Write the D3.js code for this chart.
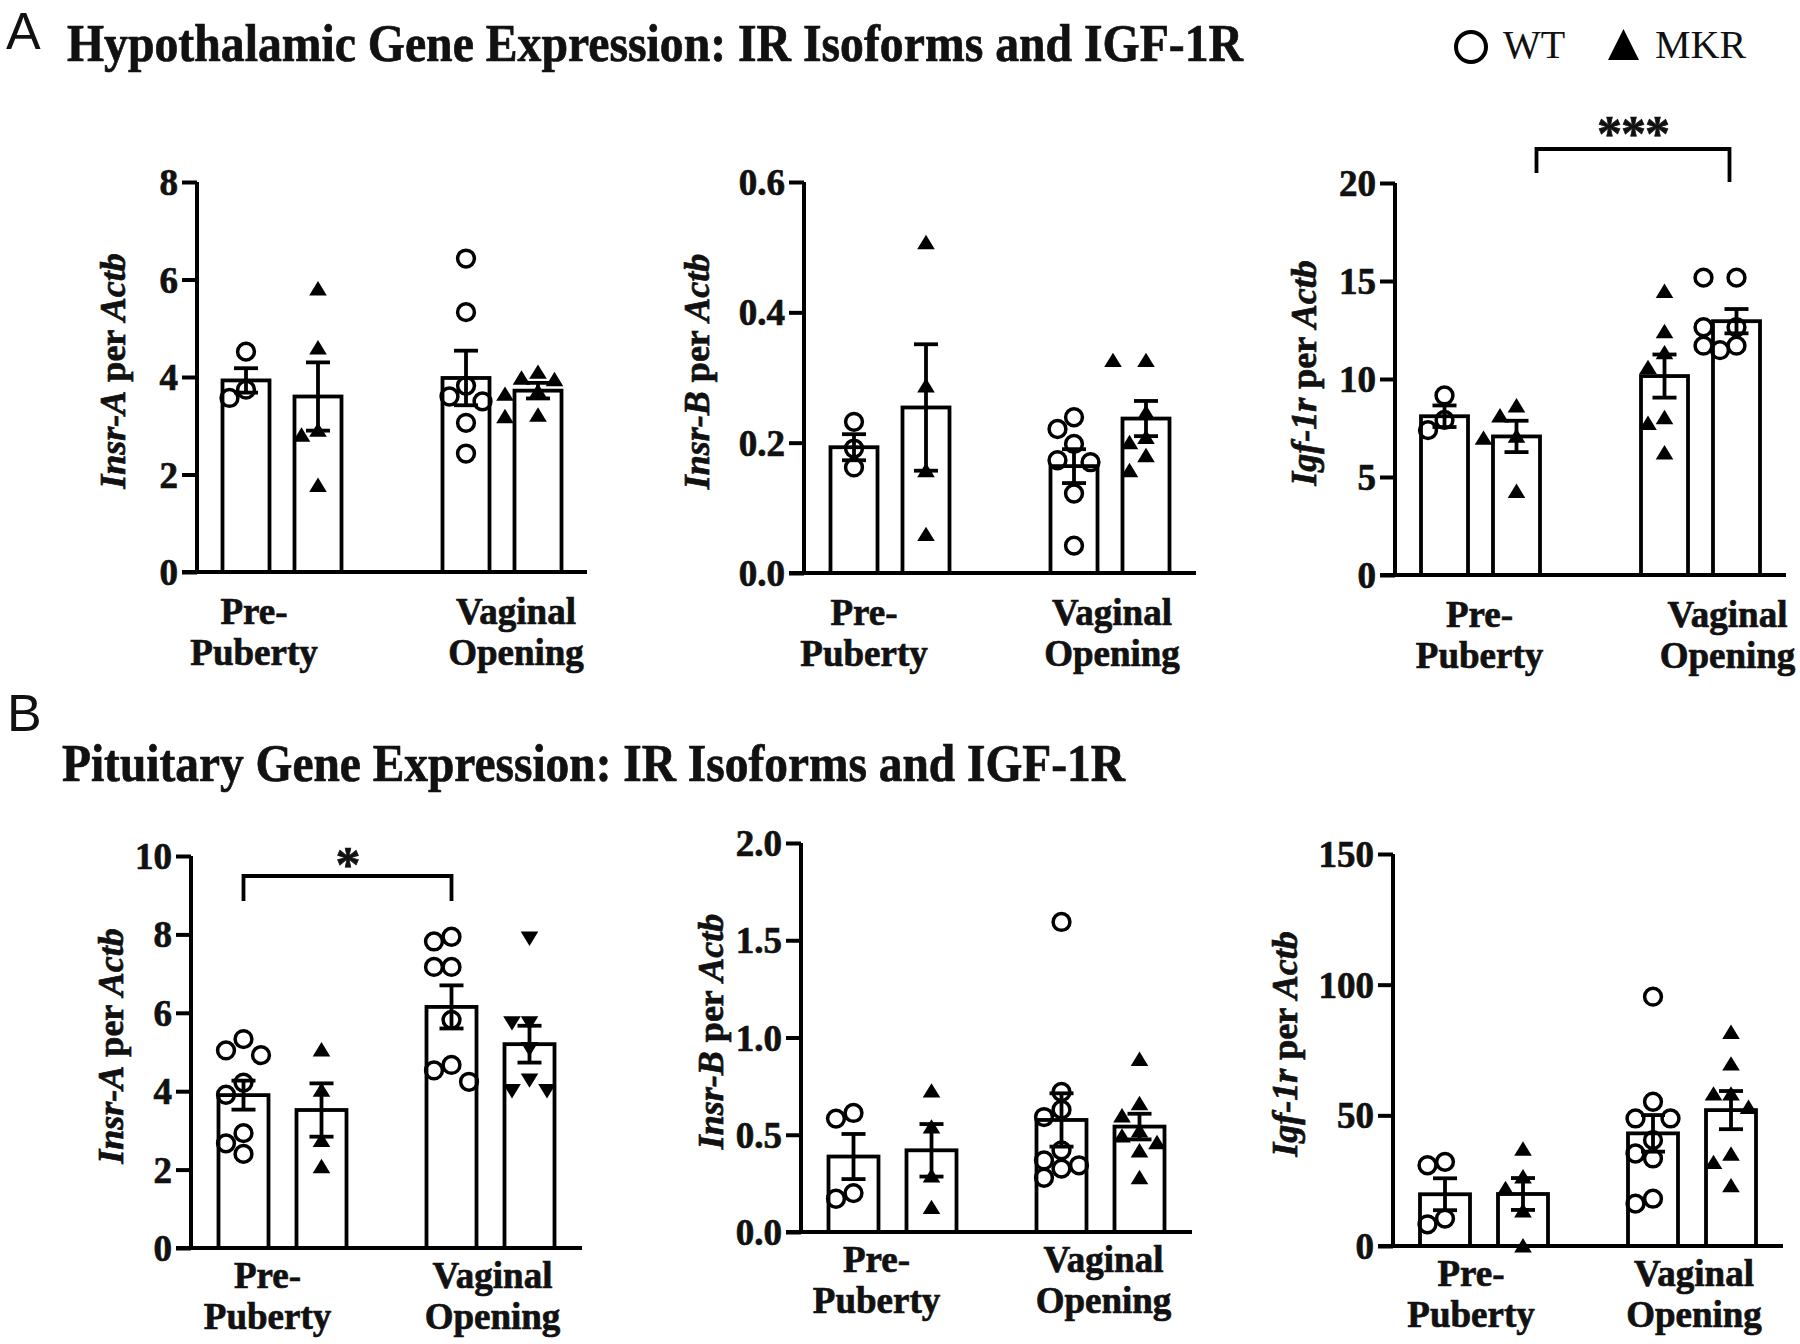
<!DOCTYPE html>
<html><head><meta charset="utf-8">
<script src="https://cdn.jsdelivr.net/npm/d3@7"></script>
<style>
body{margin:0;background:#fff}
svg{display:block}
text{font-family:"Liberation Serif","Times New Roman",serif;fill:#111}
.heavy{stroke:#111;stroke-width:0.7px;paint-order:stroke}
</style>
</head><body>
<svg id="chart" width="1800" height="1344"></svg>
<script>
// ---------------- DATA ----------------
const categories = [["Pre-","Puberty"],["Vaginal","Opening"]];
const genotypes = ["WT","MKR"];

// A: Hypothalamus — Insr-A (slots: WT pre, MKR pre, WT VO, MKR VO)
const hypInsrA_ticks = [0,2,4,6,8];
const hypInsrA_means = [3.93, 3.60, 3.98, 3.72];
const hypInsrA_sem   = [0.25, 0.70, 0.56, 0.16];
const hypInsrA_pts = [
  [4.52, 3.74, 3.57],
  [5.82, 4.61, 2.92, 2.82, 1.79],
  [6.43, 5.33, 3.82, 3.60, 3.50, 3.06, 2.43],
  [4.11, 3.99, 3.96, 3.72, 3.66, 3.23, 3.20]
];
// A: Hypothalamus — Insr-B
const hypInsrB_ticks = [0.0,0.2,0.4,0.6];
const hypInsrB_means = [0.193, 0.254, 0.164, 0.237];
const hypInsrB_sem   = [0.020, 0.097, 0.026, 0.027];
const hypInsrB_pts = [
  [0.232, 0.191, 0.162],
  [0.508, 0.288, 0.158, 0.060],
  [0.239, 0.221, 0.198, 0.173, 0.170, 0.122, 0.042],
  [0.327, 0.327, 0.247, 0.209, 0.201, 0.181, 0.158]
];
// A: Hypothalamus — Igf-1r (slots: WT pre, MKR pre, MKR VO, WT VO)
const hypIgf1r_ticks = [0,5,10,15,20];
const hypIgf1r_means = [8.10, 7.07, 10.15, 12.95];
const hypIgf1r_sem   = [0.55, 0.80, 1.10, 0.62];
const hypIgf1r_pts = [
  [9.16, 7.91, 7.39],
  [8.66, 8.15, 7.11, 7.01, 4.30],
  [14.50, 12.45, 11.37, 10.62, 8.06, 7.77, 6.26],
  [15.17, 15.17, 12.64, 12.64, 11.70, 11.70, 11.47]
];
// B: Pituitary — Insr-A
const pitInsrA_ticks = [0,2,4,6,8,10];
const pitInsrA_means = [3.90, 3.52, 6.15, 5.20];
const pitInsrA_sem   = [0.37, 0.68, 0.55, 0.47];
const pitInsrA_pts = [
  [5.33, 5.04, 4.92, 4.22, 3.91, 2.93, 2.67, 2.40],
  [5.07, 4.04, 2.76, 2.09],
  [7.94, 7.82, 7.17, 7.17, 5.82, 4.67, 4.53, 4.24],
  [7.89, 5.73, 5.73, 5.07, 4.27, 4.00, 4.00]
];
// B: Pituitary — Insr-B
const pitInsrB_ticks = [0.0,0.5,1.0,1.5,2.0];
const pitInsrB_means = [0.388, 0.420, 0.576, 0.542];
const pitInsrB_sem   = [0.116, 0.135, 0.137, 0.066];
const pitInsrB_pts = [
  [0.612, 0.583, 0.200, 0.171],
  [0.728, 0.543, 0.291, 0.129],
  [1.594, 0.720, 0.629, 0.591, 0.420, 0.368, 0.343, 0.326, 0.279],
  [0.891, 0.663, 0.600, 0.523, 0.497, 0.463, 0.420, 0.283]
];
// B: Pituitary — Igf-1r
const pitIgf1r_ticks = [0,50,100,150];
const pitIgf1r_means = [19.8, 19.9, 43.1, 52.0];
const pitIgf1r_sem   = [6.1, 6.1, 7.0, 7.3];
const pitIgf1r_pts = [
  [32.2, 30.9, 10.5, 8.3],
  [37.3, 26.7, 22.2, 13.7, 0.3],
  [95.4, 55.2, 48.8, 48.8, 40.5, 35.4, 33.5, 18.1, 16.2],
  [82.0, 69.9, 58.4, 58.4, 53.3, 35.4, 32.2, 23.3]
];

// ---------------- LAYOUT ----------------
const A_layout = {barStep:220, groupBW:119, subPad:0.347, y0Label:[52,93], stepSwarm:16.5};
const B_layout = {barStep:208, groupBW:128, subPad:0.359, y0Label:[40,81], stepSwarm:17.5};

const panels = [
 {means:hypInsrA_means, sem:hypInsrA_sem, pts:hypInsrA_pts, ticks:hypInsrA_ticks, fmt:d3.format("d"), gene:"Insr-A",
  slots:["WT","MKR","WT","MKR"], frame:{x0:197,x1:587,y0:572,yTop:182}, L:A_layout, labelDx:[-28,14], ylabDx:-72},
 {means:hypInsrB_means, sem:hypInsrB_sem, pts:hypInsrB_pts, ticks:hypInsrB_ticks, fmt:d3.format(".1f"), gene:"Insr-B",
  slots:["WT","MKR","WT","MKR"], frame:{x0:804,x1:1196,y0:573,yTop:182}, L:A_layout, labelDx:[-26,2], ylabDx:-95},
 {means:hypIgf1r_means, sem:hypIgf1r_sem, pts:hypIgf1r_pts, ticks:hypIgf1r_ticks, fmt:d3.format("d"), gene:"Igf-1r",
  slots:["WT","MKR","MKR","WT"], frame:{x0:1395,x1:1786,y0:575,yTop:183}, L:A_layout, labelDx:[-1,27], ylabDx:-79,
  sig:{from:1, to:3, dxFrom:20, dxTo:-7, top:-34, legFrom:-10, legTo:-1, label:"***", dy:1}},
 {means:pitInsrA_means, sem:pitInsrA_sem, pts:pitInsrA_pts, ticks:pitInsrA_ticks, fmt:d3.format("d"), gene:"Insr-A",
  slots:["WT","MKR","WT","MKRdown"], frame:{x0:191,x1:582,y0:1248,yTop:856}, L:B_layout, labelDx:[-15,2], ylabDx:-68,
  sig:{from:0, to:2, dxFrom:0, dxTo:0, top:20, legFrom:45, legTo:45, label:"*", dy:5}},
 {means:pitInsrB_means, sem:pitInsrB_sem, pts:pitInsrB_pts, ticks:pitInsrB_ticks, fmt:d3.format(".1f"), gene:"Insr-B",
  slots:["WT","MKR","WT","MKR"], frame:{x0:801,x1:1192,y0:1232,yTop:843}, L:B_layout, labelDx:[-16,3], ylabDx:-78},
 {means:pitIgf1r_means, sem:pitIgf1r_sem, pts:pitIgf1r_pts, ticks:pitIgf1r_ticks, fmt:d3.format("d"), gene:"Igf-1r",
  slots:["WT","MKR","WT","MKR"], frame:{x0:1393,x1:1783,y0:1246,yTop:854}, L:B_layout, labelDx:[-13,2], ylabDx:-96}
];

const svg = d3.select("#chart");
const TICK = 15, LW = 4, BW = 3.8;

// headers
svg.append("text").attr("x",6).attr("y",49).style("font-family","'Liberation Sans',Arial,sans-serif")
  .style("font-size","52px").text("A");
svg.append("text").attr("x",7).attr("y",731).style("font-family","'Liberation Sans',Arial,sans-serif")
  .style("font-size","52px").text("B");
svg.append("text").attr("class","heavy").attr("x",67).attr("y",61).style("font-size","52px").style("font-weight","bold")
  .attr("textLength",1176).attr("lengthAdjust","spacingAndGlyphs")
  .text("Hypothalamic Gene Expression: IR Isoforms and IGF-1R");
svg.append("text").attr("class","heavy").attr("x",62).attr("y",781).style("font-size","52px").style("font-weight","bold")
  .attr("textLength",1063).attr("lengthAdjust","spacingAndGlyphs")
  .text("Pituitary Gene Expression: IR Isoforms and IGF-1R");

// legend
const lg = svg.append("g");
lg.append("circle").attr("cx",1471).attr("cy",47).attr("r",15).attr("fill","none").attr("stroke","#000").attr("stroke-width",4);
lg.append("text").attr("x",1503).attr("y",58).style("font-size","40px").text(genotypes[0]);
lg.append("path").attr("d","M1608,60 L1639,60 L1623.5,29 Z").attr("fill","#000");
lg.append("text").attr("x",1655).attr("y",58).style("font-size","40px").text(genotypes[1]);

function symbolPath(kind){
  if(kind==="MKR") return "M-8.8,7.2 L8.8,7.2 L0,-7.2 Z";
  if(kind==="MKRdown") return "M-8.8,-7.2 L8.8,-7.2 L0,7.2 Z";
  return null;
}

function swarm(ys, step, minD){
  const placed=[], out=[];
  ys.forEach(y=>{
    for(let k=0;k<30;k++){
      const off = k===0?0:(k%2?-1:1)*Math.ceil(k/2)*step;
      if(placed.every(p=>Math.hypot(p.x-off,p.y-y)>=minD)){placed.push({x:off,y}); out.push(off); break;}
    }
  });
  return out;
}

panels.forEach(p=>{
  const g = svg.append("g");
  const f = p.frame, L = p.L;
  const ymax = p.ticks[p.ticks.length-1];
  const y = d3.scaleLinear().domain([0,ymax]).range([f.y0,f.yTop]);
  const width = f.x1 - f.x0;
  const pi = 1 - L.groupBW/L.barStep;
  const po = (width/L.barStep - 2 + pi)/2;
  const x0 = d3.scaleBand().domain([0,1]).range([f.x0,f.x1]).paddingInner(pi).paddingOuter(po);
  const x1 = d3.scaleBand().domain([0,1]).range([0,x0.bandwidth()]).paddingInner(L.subPad).paddingOuter(0);
  const cx = i => x0(Math.floor(i/2)) + x1(i%2) + x1.bandwidth()/2;
  const bw = x1.bandwidth();

  // bars
  g.selectAll("rect.bar").data(p.means).join("rect")
    .attr("x",(d,i)=>cx(i)-bw/2).attr("y",d=>y(d)).attr("width",bw).attr("height",d=>f.y0-y(d))
    .attr("fill","#fff").attr("stroke","#000").attr("stroke-width",BW);

  // error bars
  p.means.forEach((m,i)=>{
    const s=p.sem[i], c=cx(i);
    const eg=g.append("g").attr("stroke","#000").attr("stroke-width",BW).attr("fill","none");
    eg.append("line").attr("x1",c).attr("x2",c).attr("y1",y(m+s)).attr("y2",y(m-s));
    eg.append("line").attr("x1",c-12).attr("x2",c+12).attr("y1",y(m+s)).attr("y2",y(m+s));
    eg.append("line").attr("x1",c-12).attr("x2",c+12).attr("y1",y(m-s)).attr("y2",y(m-s));
  });

  // points
  p.pts.forEach((vals,i)=>{
    const sorted = vals.slice().sort((a,b)=>b-a);
    const offs = swarm(sorted.map(v=>y(v)), L.stepSwarm, 17);
    const kind = p.slots[i];
    sorted.forEach((v,j)=>{
      const px = cx(i)+offs[j], py = y(v);
      if(kind==="WT"){
        g.append("circle").attr("cx",px).attr("cy",py).attr("r",8.4)
          .attr("fill","none").attr("stroke","#000").attr("stroke-width",3.5);
      } else {
        g.append("path").attr("d",symbolPath(kind)).attr("transform",`translate(${px},${py})`).attr("fill","#000");
      }
    });
  });

  // y axis
  const ya = g.append("g").attr("transform",`translate(${f.x0},0)`)
    .call(d3.axisLeft(y).tickValues(p.ticks).tickFormat(p.fmt).tickSize(TICK).tickSizeOuter(0).tickPadding(4));
  ya.select(".domain").attr("stroke","#000").attr("stroke-width",LW).attr("d",`M0,${f.y0}V${f.yTop}`);
  ya.selectAll(".tick line").attr("stroke","#000").attr("stroke-width",LW);
  ya.selectAll(".tick text").attr("class","heavy").style("font-family","'Liberation Serif','Times New Roman',serif")
    .style("font-size","37px").style("font-weight","bold").attr("fill","#111").attr("dy","0.34em");

  // x axis line
  g.append("line").attr("x1",f.x0-TICK).attr("x2",f.x1).attr("y1",f.y0).attr("y2",f.y0)
    .attr("stroke","#000").attr("stroke-width",LW);

  // category labels
  categories.forEach((lines,gi)=>{
    const c = x0(gi)+x0.bandwidth()/2 + p.labelDx[gi];
    lines.forEach((t,li)=>{
      g.append("text").attr("class","heavy").attr("x",c).attr("y",f.y0+L.y0Label[li]).attr("text-anchor","middle")
        .style("font-size","37px").style("font-weight","bold").text(t);
    });
  });

  // y label
  const ymid = (f.y0+f.yTop)/2 - 6;
  const yl = g.append("text").attr("class","heavy").attr("transform",`translate(${f.x0+p.ylabDx},${ymid}) rotate(-90)`)
    .attr("text-anchor","middle").style("font-size","36px").style("font-weight","bold");
  yl.append("tspan").style("font-style","italic").text(p.gene);
  yl.append("tspan").text(" per ");
  yl.append("tspan").style("font-style","italic").text("Actb");

  // significance
  if(p.sig){
    const s=p.sig;
    const xa = cx(s.from)+s.dxFrom, xb = cx(s.to)+s.dxTo;
    const yt = f.yTop + s.top;
    g.append("path").attr("d",`M${xa},${f.yTop+s.legFrom}V${yt}H${xb}V${f.yTop+s.legTo}`)
      .attr("fill","none").attr("stroke","#000").attr("stroke-width",BW);
    g.append("text").attr("class","heavy").attr("x",(xa+xb)/2).attr("y",yt+s.dy).attr("text-anchor","middle")
      .style("font-size","50px").style("font-weight","bold").style("letter-spacing","-1px").text(s.label);
  }
});
</script>
</body></html>
